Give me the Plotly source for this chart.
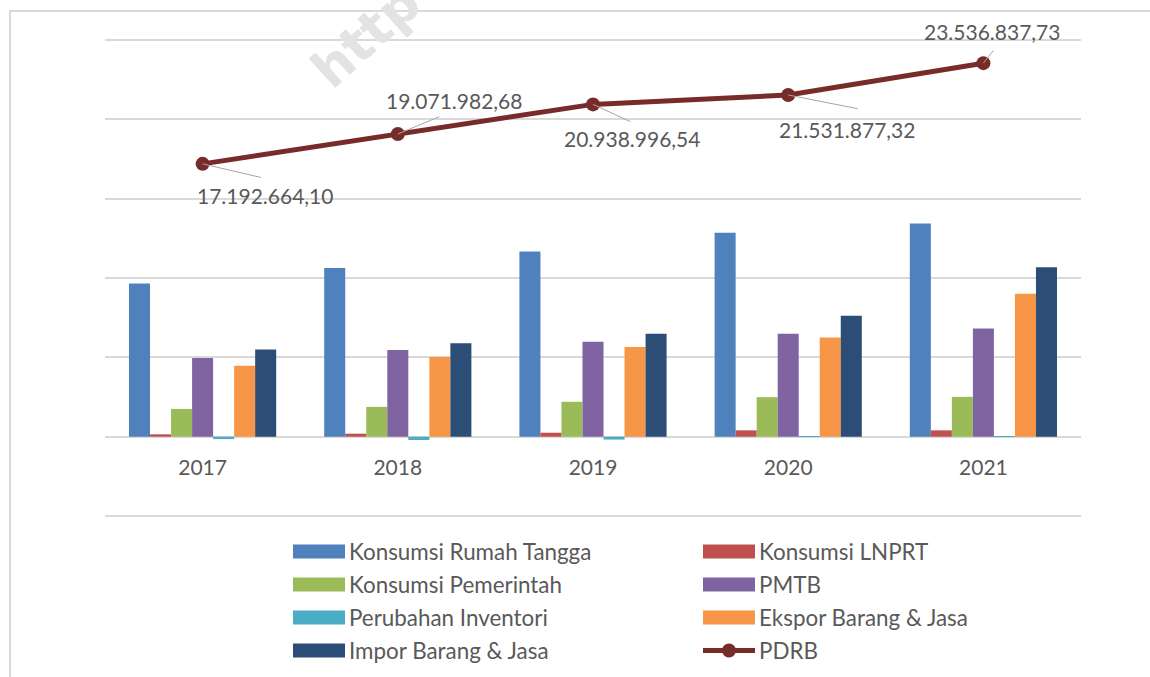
import plotly.graph_objects as go

years = ["2017", "2018", "2019", "2020", "2021"]
konsumsi_rt = [9650000, 10630000, 11670000, 12850000, 13440000]
konsumsi_lnprt = [150000, 190000, 250000, 400000, 400000]
konsumsi_pem = [1750000, 1880000, 2200000, 2490000, 2510000]
pmtb = [4960000, 5470000, 5990000, 6480000, 6820000]
inventori = [-150000, -210000, -180000, 15000, 10000]
ekspor = [4470000, 5030000, 5660000, 6250000, 9010000]
impor = [5490000, 5890000, 6480000, 7620000, 10680000]
pdrb = [17192664.10, 19071982.68, 20938996.54, 21531877.32, 23536837.73]

names = ["Konsumsi Rumah Tangga", "Konsumsi LNPRT", "Konsumsi Pemerintah", "PMTB",
         "Perubahan Inventori", "Ekspor Barang & Jasa", "Impor Barang & Jasa", "PDRB"]
colors = ["#4F81BD", "#C0504D", "#9BBB59", "#8064A2", "#4BACC6", "#F79646", "#2C4D75", "#772C2A"]
bar_series = [konsumsi_rt, konsumsi_lnprt, konsumsi_pem, pmtb, inventori, ekspor, impor]

FONT = "Lato"
TXT = "#595959"

fig = go.Figure()
for name, vals, col in zip(names[:7], bar_series, colors[:7]):
    fig.add_trace(go.Bar(x=years, y=vals, name=name, marker=dict(color=col, line=dict(width=0)),
                         showlegend=False))
fig.add_trace(go.Scatter(x=years, y=pdrb, name="PDRB", mode="lines+markers",
                         line=dict(color=colors[7], width=5),
                         marker=dict(color=colors[7], size=14), showlegend=False))

def idfmt(v):
    s = f"{v:,.2f}"
    return s.replace(",", "_").replace(".", ",").replace("_", ".")

# label offsets (pixels) and leader line offsets
text_off = [(62, 32), (56, -34), (39, 34), (59, 35), (9, -32)]
lead_off = [(60, 14), (43, -18), (39, 18), (71, 14), (11, -14)]
for i, (v, (tx, ty), (lx, ly)) in enumerate(zip(pdrb, text_off, lead_off)):
    fig.add_annotation(x=i, y=v, ax=lx, ay=ly, axref="pixel", ayref="pixel", text="",
                       showarrow=True, arrowhead=0, arrowwidth=1, arrowcolor="#A6A6A6",
                       standoff=0, startstandoff=0)
    fig.add_annotation(x=i, y=v, text=idfmt(v), showarrow=False, xshift=tx, yshift=-ty,
                       xanchor="center", yanchor="middle",
                       font=dict(family=FONT, size=21, color=TXT))

# y range padded slightly beyond the outer gridlines
YMIN, YMAX = -5.5e6, 25.5e6
PXM = 476.5 / 30e6  # pixels per unit
L, R = 105, 1081
T = 40 - (YMAX - 25e6) * PXM
B = 516.5 + (-5e6 - YMIN) * PXM
W, H = R - L, B - T
def px(x):
    return (x - L) / W
def py(y):
    return (B - y) / H

shapes = []
# chart border
shapes.append(dict(type="rect", xref="paper", yref="paper", x0=px(10), x1=px(1200), y0=py(11), y1=py(720),
                   line=dict(color="#D9D9D9", width=2), fillcolor="rgba(0,0,0,0)", layer="below"))
# manual legend
for i, (name, col) in enumerate(zip(names, colors)):
    cx = 293 if i % 2 == 0 else 703
    cy = 552 + 33 * (i // 2)
    if i < 7:
        shapes.append(dict(type="rect", xref="paper", yref="paper", x0=px(cx), x1=px(cx + 52),
                           y0=py(cy + 7), y1=py(cy - 7), fillcolor=col, line=dict(width=0)))
    else:
        shapes.append(dict(type="line", xref="paper", yref="paper", x0=px(cx), x1=px(cx + 52),
                           y0=py(cy), y1=py(cy), line=dict(color=col, width=5)))
        shapes.append(dict(type="circle", xref="paper", yref="paper", x0=px(cx + 19), x1=px(cx + 33),
                           y0=py(cy + 7), y1=py(cy - 7), fillcolor=col, line=dict(width=0)))
    fig.add_annotation(xref="paper", yref="paper", x=px(cx + 54), y=py(cy), text=name, showarrow=False,
                       xanchor="left", yanchor="middle", font=dict(family=FONT, size=22.4, color=TXT))

# watermark
fig.add_annotation(xref="paper", yref="paper", x=px(366), y=py(36), text="<b>http</b>", showarrow=False,
                   xanchor="center", yanchor="middle",
                   textangle=-42, font=dict(family="DejaVu Sans", size=52, color="#E3E3E3"))

fig.update_layout(
    width=1150, height=677,
    margin=dict(l=L, r=1150 - R, t=T, b=677 - B, pad=0),
    paper_bgcolor="white", plot_bgcolor="white",
    barmode="group", bargap=0.246, bargroupgap=0,
    shapes=shapes,
    xaxis=dict(type="category", range=[-0.5, 4.5], anchor="free",
               position=(0 - YMIN) / (YMAX - YMIN),
               showline=False, ticks="", showgrid=False,
               tickfont=dict(family=FONT, size=21, color=TXT), ticklabelstandoff=16),
    yaxis=dict(range=[YMIN, YMAX], dtick=5e6, tick0=0, showticklabels=False, showgrid=True,
               gridcolor="#D9D9D9", gridwidth=1.5, zeroline=True, zerolinecolor="#D9D9D9",
               zerolinewidth=1.5, showline=False),
)

fig.write_html("out.html", config={"displayModeBar": False},
               post_script="document.body.style.margin='0px';")
